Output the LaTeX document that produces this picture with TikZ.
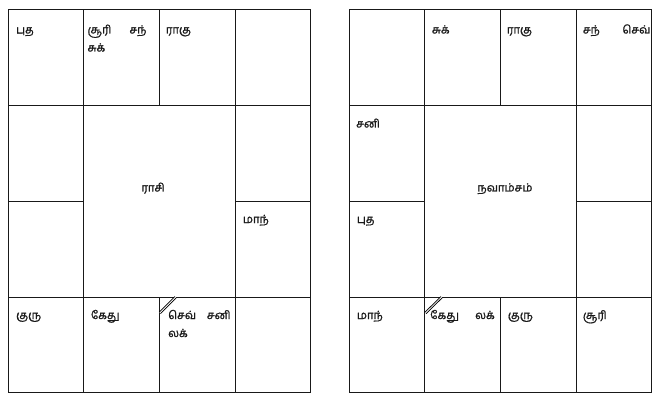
\documentclass[tikz,border=0pt]{standalone}
\usepackage{fontspec}
\newfontfamily\tamil[Script=Tamil, FakeBold=1.2]{Hind Madurai}
\tikzset{
  grid line/.style={draw=black!90, line width=1pt},
  planet/.style={font=\tamil\fontsize{11.3}{13}\selectfont, inner sep=0pt, anchor=base west, text=black!90},
  title/.style={font=\tamil\fontsize{11.3}{13}\selectfont, inner sep=0pt, anchor=base, text=black!90},
  slashmark/.style={draw=black, double=white, double distance=0.8pt, line width=0.9pt}
}
\begin{document}
\begin{tikzpicture}[x=1pt,y=-1pt]
\useasboundingbox (0,0) rectangle (663,403);
% chart grids
\foreach \ox/\nm in {0/L,341/R}{
  \begin{scope}[xshift=\ox pt]
    \coordinate (\nm tl) at (8,9.5);
    \coordinate (\nm br) at (310.7,392.7);
    \draw[grid line] (\nm tl) rectangle (\nm br);
    % full horizontal lines
    \draw[grid line] (8,105.3) -- (310.7,105.3);
    \draw[grid line] (8,297) -- (310.7,297);
    % side-column middle lines
    \draw[grid line] (8,201.2) -- (83.7,201.2);
    \draw[grid line] (235,201.2) -- (310.7,201.2);
    % full vertical lines
    \draw[grid line] (83.7,9.5) -- (83.7,392.7);
    \draw[grid line] (235,9.5) -- (235,392.7);
    % middle vertical in top and bottom rows
    \draw[grid line] (159.3,9.5) -- (159.3,105.3);
    \draw[grid line] (159.3,297) -- (159.3,392.7);
  \end{scope}
}
% lagna marks
\draw[slashmark] (159.8,313.0) -- (175.5,297.2);
\draw[slashmark] (425.5,313.0) -- (441.5,297.2);
% left chart (rasi)
\node[planet] (Lputha) at (16,33.5) {புத};
\node[planet] (Lsuri) at (87.3,33.5) {சூரி};
\node[planet] (Lsan) at (129.3,33.5) {சந்};
\node[planet] (Lsuk) at (87.3,51.5) {சுக்};
\node[planet] (Lraagu) at (165.7,33.5) {ராகு};
\node[title] (Lraasi) at (153,191.5) {ராசி};
\node[planet] (Lmaan) at (242.7,223) {மாந்};
\node[planet] (Lguru) at (16,319) {குரு};
\node[planet] (Lkethu) at (90.7,319) {கேது};
\node[planet] (Lsev) at (168,319) {செவ்};
\node[planet] (Lsani) at (206.7,319) {சனி};
\node[planet] (Llak) at (168,337) {லக்};
% right chart (navamsam)
\node[planet] (Rsuk) at (431.7,33.5) {சுக்};
\node[planet] (Rraagu) at (506.7,33.5) {ராகு};
\node[planet] (Rsan) at (582.7,33.5) {சந்};
\node[planet, anchor=base east] (Rsev) at (650.5,33.5) {செவ்};
\node[planet] (Rsani) at (356,127.5) {சனி};
\node[planet] (Rputha) at (356.7,223) {புத};
\node[title] (Rnav) at (505,191.5) {நவாம்சம்};
\node[planet] (Rmaan) at (356.7,319) {மாந்};
\node[planet] (Rkethu) at (430,319) {கேது};
\node[planet] (Rlak) at (475,319) {லக்};
\node[planet] (Rguru) at (507.7,319) {குரு};
\node[planet] (Rsuri) at (582.7,319) {சூரி};
\end{tikzpicture}
\end{document}
